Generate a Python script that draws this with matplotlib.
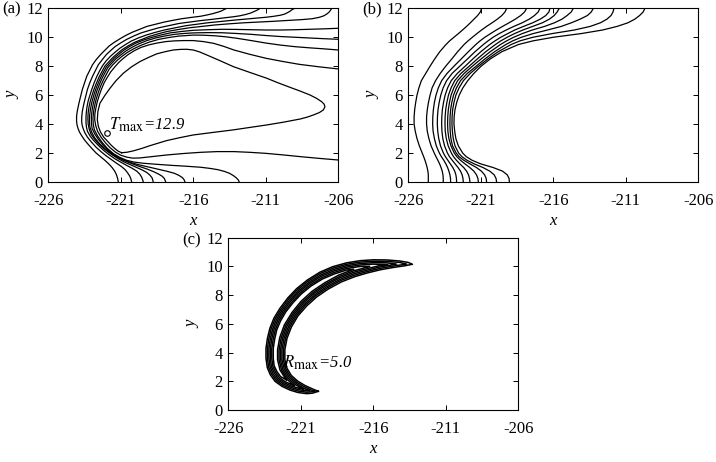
import matplotlib
matplotlib.use('Agg')
import matplotlib.pyplot as plt
import matplotlib._mathtext as _mt

_mt.SHRINK_FACTOR = 0.85  # larger subscripts, like the reference labels

plt.rcParams['font.family'] = ['Liberation Serif', 'DejaVu Serif']
plt.rcParams['mathtext.fontset'] = 'stix'

x_ticks = [-226, -221, -216, -211, -206]
y_ticks = [0, 2, 4, 6, 8, 10, 12]
x_range = (-226, -206)
y_range = (0, 12)

# ---------------- Panel (a): T contour lines, (x, y) pairs ----------------
a1 = [(-221.17,0),(-221.22,0.25),(-221.3,0.5),(-221.42,0.75),(-221.6,1.0),(-221.83,1.25),(-222.1,1.5),(-222.4,1.75),(-222.7,2.0),(-222.98,2.3),(-223.25,2.6),(-223.5,2.9),(-223.7,3.2),(-223.85,3.45),(-223.95,3.7),(-224.02,3.95),(-224.05,4.2),(-224.05,4.55),(-224.0,4.9),(-223.93,5.25),(-223.85,5.6),(-223.75,6.0),(-223.65,6.4),(-223.5,6.85),(-223.35,7.3),(-223.15,7.7),(-222.95,8.1),(-222.7,8.45),(-222.4,8.8),(-222.1,9.1),(-221.8,9.4),(-221.45,9.65),(-221.05,9.9),(-220.65,10.13),(-220.2,10.35),(-219.7,10.55),(-219.2,10.75),(-218.6,10.9),(-218.0,11.05),(-217.4,11.17),(-216.8,11.28),(-216.15,11.37),(-215.5,11.45),(-215.1,11.53),(-214.7,11.62),(-214.35,11.72),(-214.1,11.8),(-213.9,11.9),(-213.8,11.95),(-213.7,12.0)]
a2 = [(-220.25,0),(-220.3,0.2),(-220.38,0.4),(-220.52,0.62),(-220.7,0.85),(-220.97,1.08),(-221.3,1.3),(-221.65,1.55),(-222.0,1.8),(-222.37,2.1),(-222.7,2.4),(-223.02,2.75),(-223.3,3.1),(-223.48,3.4),(-223.6,3.7),(-223.67,3.95),(-223.7,4.2),(-223.69,4.55),(-223.65,4.9),(-223.58,5.25),(-223.5,5.6),(-223.4,6.0),(-223.3,6.4),(-223.14,6.85),(-222.95,7.3),(-222.75,7.7),(-222.55,8.1),(-222.28,8.45),(-222.0,8.8),(-221.7,9.08),(-221.4,9.35),(-221.02,9.6),(-220.6,9.85),(-220.12,10.08),(-219.6,10.3),(-219.0,10.48),(-218.4,10.65),(-217.7,10.8),(-217.0,10.95),(-216.25,11.05),(-215.5,11.15),(-214.85,11.22),(-214.2,11.3),(-213.7,11.36),(-213.2,11.42),(-212.8,11.48),(-212.4,11.57),(-212.05,11.67),(-211.8,11.78),(-211.6,11.87),(-211.5,11.93),(-211.4,12.0)]
a3 = [(-219.45,0),(-219.5,0.18),(-219.57,0.35),(-219.7,0.55),(-219.9,0.75),(-220.22,0.95),(-220.6,1.15),(-221.0,1.37),(-221.4,1.6),(-221.8,1.88),(-222.2,2.2),(-222.57,2.55),(-222.9,2.9),(-223.13,3.2),(-223.3,3.5),(-223.37,3.8),(-223.4,4.1),(-223.4,4.45),(-223.38,4.8),(-223.33,5.2),(-223.25,5.6),(-223.13,6.0),(-223.0,6.4),(-222.84,6.85),(-222.65,7.3),(-222.46,7.68),(-222.25,8.05),(-222.0,8.38),(-221.7,8.7),(-221.38,8.98),(-221.05,9.25),(-220.67,9.5),(-220.25,9.75),(-219.77,9.96),(-219.25,10.15),(-218.65,10.33),(-218.0,10.5),(-217.25,10.65),(-216.5,10.8),(-215.75,10.9),(-215.0,11.0),(-214.0,11.1),(-213.0,11.2),(-212.0,11.29),(-211.0,11.38),(-210.5,11.44),(-210.0,11.52),(-209.7,11.6),(-209.5,11.7),(-209.32,11.8),(-209.2,11.9),(-209.0,12.0)]
a4 = [(-218.76,0),(-218.8,0.15),(-218.85,0.3),(-219.0,0.48),(-219.2,0.65),(-219.52,0.83),(-219.9,1.0),(-220.35,1.2),(-220.8,1.4),(-221.25,1.65),(-221.7,1.95),(-222.12,2.27),(-222.5,2.6),(-222.8,2.95),(-223.05,3.3),(-223.18,3.65),(-223.25,4.0),(-223.27,4.4),(-223.25,4.8),(-223.19,5.2),(-223.1,5.6),(-222.98,6.0),(-222.85,6.4),(-222.68,6.83),(-222.5,7.25),(-222.3,7.63),(-222.1,8.0),(-221.83,8.3),(-221.55,8.6),(-221.23,8.88),(-220.9,9.15),(-220.5,9.4),(-220.05,9.65),(-219.55,9.85),(-219.05,10.05),(-218.45,10.23),(-217.8,10.4),(-217.05,10.53),(-216.3,10.65),(-215.4,10.75),(-214.5,10.85),(-213.5,10.93),(-212.5,11.0),(-211.5,11.05),(-210.5,11.1),(-209.5,11.16),(-208.5,11.22),(-207.8,11.28),(-207.3,11.38),(-207.0,11.48),(-206.8,11.6),(-206.65,11.72),(-206.55,11.85),(-206.45,12.0)]
a5 = [(-217.9,0),(-217.95,0.12),(-218.0,0.25),(-218.15,0.4),(-218.4,0.55),(-218.75,0.72),(-219.2,0.9),(-219.7,1.07),(-220.2,1.25),(-220.7,1.46),(-221.2,1.7),(-221.67,1.98),(-222.1,2.3),(-222.48,2.66),(-222.8,3.05),(-223.0,3.42),(-223.13,3.8),(-223.17,4.2),(-223.15,4.6),(-223.09,5.05),(-223.0,5.5),(-222.88,5.93),(-222.75,6.35),(-222.58,6.78),(-222.4,7.2),(-222.2,7.58),(-222.0,7.95),(-221.73,8.25),(-221.45,8.55),(-221.13,8.83),(-220.8,9.1),(-220.4,9.36),(-219.95,9.6),(-219.45,9.8),(-218.9,9.98),(-218.25,10.15),(-217.6,10.3),(-216.8,10.4),(-216.0,10.48),(-215.0,10.52),(-214.0,10.55),(-213.0,10.54),(-212.0,10.52),(-211.0,10.5),(-210.0,10.5),(-209.0,10.52),(-208.0,10.55),(-207.0,10.58),(-206.0,10.62)]
a6 = [(-216.57,0),(-216.63,0.15),(-216.75,0.3),(-216.98,0.45),(-217.3,0.6),(-217.85,0.75),(-218.5,0.9),(-219.15,1.05),(-219.8,1.2),(-220.35,1.36),(-220.9,1.55),(-221.38,1.82),(-221.8,2.15),(-222.2,2.52),(-222.55,2.95),(-222.8,3.33),(-222.98,3.7),(-223.03,4.1),(-223.03,4.5),(-222.98,4.95),(-222.9,5.4),(-222.78,5.85),(-222.65,6.3),(-222.48,6.73),(-222.3,7.15),(-222.1,7.53),(-221.9,7.9),(-221.63,8.2),(-221.35,8.5),(-221.0,8.78),(-220.65,9.05),(-220.22,9.31),(-219.75,9.55),(-219.2,9.77),(-218.6,9.95),(-217.95,10.09),(-217.3,10.2),(-216.65,10.26),(-216.0,10.3),(-215.0,10.32),(-214.0,10.31),(-213.0,10.26),(-212.0,10.2),(-211.0,10.12),(-210.0,10.05),(-209.0,10.0),(-208.0,9.95),(-207.0,9.9),(-206.0,9.86)]
a7 = [(-212.83,0),(-212.9,0.15),(-213.05,0.3),(-213.25,0.45),(-213.5,0.6),(-213.85,0.73),(-214.3,0.85),(-214.85,0.94),(-215.5,1.02),(-216.5,1.09),(-217.5,1.15),(-218.5,1.22),(-219.5,1.3),(-220.1,1.38),(-220.6,1.5),(-221.07,1.7),(-221.5,1.95),(-221.93,2.32),(-222.3,2.75),(-222.6,3.18),(-222.82,3.6),(-222.9,4.0),(-222.92,4.4),(-222.88,4.85),(-222.8,5.3),(-222.69,5.75),(-222.55,6.2),(-222.39,6.63),(-222.2,7.05),(-222.0,7.43),(-221.8,7.8),(-221.55,8.1),(-221.25,8.4),(-220.92,8.68),(-220.55,8.95),(-220.1,9.21),(-219.6,9.45),(-219.02,9.67),(-218.4,9.85),(-217.7,9.98),(-217.0,10.08),(-216.0,10.15),(-215.25,10.14),(-214.5,10.1),(-213.75,10.03),(-213.0,9.93),(-212.0,9.77),(-211.0,9.6),(-210.0,9.46),(-209.0,9.35),(-208.0,9.27),(-207.0,9.2),(-206.0,9.12)]
a8 = [(-206.0,1.52),(-207.3,1.63),(-208.6,1.75),(-209.8,1.87),(-211.0,1.98),(-212.1,2.05),(-213.2,2.1),(-214.35,2.1),(-215.5,2.05),(-216.65,1.97),(-217.8,1.87),(-218.8,1.76),(-219.7,1.66),(-220.2,1.65),(-220.6,1.72),(-221.0,1.85),(-221.35,2.05),(-221.72,2.35),(-222.05,2.7),(-222.35,3.08),(-222.6,3.5),(-222.73,3.9),(-222.8,4.3),(-222.79,4.7),(-222.72,5.1),(-222.63,5.52),(-222.5,5.95),(-222.34,6.4),(-222.15,6.85),(-221.93,7.23),(-221.7,7.6),(-221.43,7.93),(-221.15,8.25),(-220.84,8.53),(-220.5,8.8),(-220.07,9.07),(-219.6,9.3),(-219.07,9.47),(-218.5,9.6),(-217.9,9.7),(-217.3,9.75),(-216.65,9.77),(-216.0,9.77),(-215.3,9.7),(-214.6,9.58),(-213.9,9.37),(-213.2,9.12),(-212.1,8.82),(-211.0,8.55),(-209.85,8.33),(-208.7,8.13),(-207.35,7.96),(-206.0,7.81)]
a9 = [(-220.94,2.02),(-220.55,2.06),(-220.14,2.15),(-219.55,2.32),(-218.99,2.51),(-218.4,2.69),(-217.84,2.86),(-216.9,3.07),(-216.0,3.25),(-214.6,3.43),(-213.24,3.6),(-212.1,3.77),(-210.94,3.94),(-209.8,4.13),(-208.64,4.35),(-208.15,4.48),(-207.72,4.63),(-207.3,4.8),(-207.03,4.98),(-206.92,5.2),(-206.98,5.38),(-207.15,5.55),(-207.5,5.78),(-207.95,6.01),(-208.6,6.27),(-209.33,6.54),(-210.15,6.85),(-210.94,7.17),(-212.1,7.57),(-213.24,7.97),(-214.2,8.4),(-215.08,8.78),(-215.55,8.98),(-216.0,9.12),(-216.46,9.17),(-216.9,9.16),(-217.38,9.12),(-217.95,9.0),(-218.53,8.85),(-219.1,8.6),(-219.68,8.32),(-220.27,7.95),(-220.83,7.51),(-221.33,7.0),(-221.75,6.47),(-222.12,5.95),(-222.44,5.44),(-222.58,4.87),(-222.62,4.3),(-222.55,3.85),(-222.4,3.45),(-222.18,3.1),(-221.9,2.8),(-221.65,2.53),(-221.4,2.3),(-221.18,2.13),(-220.94,2.02)]
tmax_x = -221.98
tmax_y = 3.36
tmax_value = 12.9

# ---------------- Panel (b): contour lines, x at shared y levels ----------------
b_y = [0,0.25,0.5,0.75,1.0,1.25,1.5,1.75,2.0,2.5,3.0,3.5,4.0,4.5,5.0,5.5,6.0,6.5,7.0,7.5,8.0,8.5,9.0,9.5,9.75,10.0,10.25,10.5,10.75,11.0,11.25,11.5,11.75,12.0]
b1_x = [-224.62,-224.62,-224.62,-224.65,-224.7,-224.77,-224.85,-224.94,-225.04,-225.24,-225.4,-225.52,-225.6,-225.6,-225.56,-225.49,-225.4,-225.27,-225.1,-224.8,-224.5,-224.18,-223.83,-223.4,-223.15,-222.85,-222.55,-222.26,-221.98,-221.72,-221.47,-221.22,-221.03,-220.94]
b2_x = [-223.59,-223.59,-223.61,-223.66,-223.74,-223.84,-223.96,-224.09,-224.21,-224.43,-224.58,-224.69,-224.74,-224.74,-224.69,-224.61,-224.5,-224.36,-224.12,-223.8,-223.42,-223.0,-222.6,-222.15,-221.88,-221.58,-221.27,-220.95,-220.6,-220.22,-219.86,-219.55,-219.33,-219.22]
b3_x = [-223.08,-223.09,-223.13,-223.2,-223.29,-223.41,-223.55,-223.72,-223.86,-224.07,-224.2,-224.29,-224.32,-224.31,-224.27,-224.2,-224.09,-223.93,-223.7,-223.33,-222.85,-222.35,-221.86,-221.34,-221.05,-220.72,-220.33,-219.93,-219.5,-219.05,-218.62,-218.25,-217.98,-217.84]
b4_x = [-222.67,-222.68,-222.72,-222.8,-222.93,-223.1,-223.27,-223.44,-223.58,-223.78,-223.9,-223.97,-224.0,-223.99,-223.95,-223.87,-223.76,-223.6,-223.36,-222.98,-222.45,-221.92,-221.4,-220.82,-220.5,-220.15,-219.73,-219.25,-218.72,-218.14,-217.66,-217.3,-217.04,-216.92]
b5_x = [-222.21,-222.23,-222.29,-222.4,-222.57,-222.77,-222.97,-223.16,-223.3,-223.5,-223.62,-223.68,-223.7,-223.69,-223.65,-223.57,-223.46,-223.29,-223.04,-222.62,-222.08,-221.55,-221.0,-220.38,-220.02,-219.62,-219.15,-218.66,-218.05,-217.42,-216.9,-216.52,-216.3,-216.23]
b6_x = [-221.75,-221.78,-221.85,-221.98,-222.18,-222.44,-222.68,-222.88,-223.03,-223.25,-223.38,-223.45,-223.47,-223.46,-223.42,-223.34,-223.23,-223.05,-222.8,-222.37,-221.8,-221.24,-220.66,-219.99,-219.62,-219.18,-218.68,-218.1,-217.42,-216.75,-216.27,-215.94,-215.73,-215.59]
b7_x = [-221.17,-221.2,-221.3,-221.48,-221.76,-222.09,-222.4,-222.65,-222.83,-223.06,-223.2,-223.27,-223.29,-223.28,-223.24,-223.16,-223.05,-222.86,-222.6,-222.15,-221.58,-220.98,-220.35,-219.64,-219.22,-218.73,-218.15,-217.45,-216.6,-215.92,-215.4,-215.05,-214.76,-214.62]
b8_x = [-220.6,-220.63,-220.74,-220.96,-221.3,-221.75,-222.17,-222.5,-222.7,-222.95,-223.06,-223.11,-223.13,-223.12,-223.08,-223.0,-222.88,-222.68,-222.4,-221.93,-221.32,-220.72,-220.05,-219.27,-218.8,-218.2,-217.4,-216.4,-215.45,-214.75,-214.15,-213.65,-213.38,-213.24]
b9_x = [-219.91,-219.95,-220.08,-220.38,-220.85,-221.45,-221.95,-222.3,-222.53,-222.78,-222.9,-222.96,-222.99,-222.98,-222.94,-222.85,-222.72,-222.5,-222.2,-221.73,-221.15,-220.52,-219.8,-218.9,-218.3,-217.4,-216.1,-214.55,-213.45,-212.75,-212.3,-212.02,-211.88,-211.82]
b10_x = [-219.03,-219.05,-219.18,-219.5,-220.15,-221.0,-221.6,-222.0,-222.25,-222.55,-222.72,-222.8,-222.85,-222.84,-222.78,-222.66,-222.49,-222.24,-221.9,-221.48,-220.98,-220.35,-219.55,-218.4,-217.4,-216.0,-214.1,-212.6,-211.6,-210.85,-210.38,-210.05,-209.8,-209.68]

# ---------------- Panel (c): R contours, closed loops as (x, y) pairs ----------------
c1 = [(-219.79,1.3),(-220.2,1.17),(-220.6,1.14),(-221.2,1.22),(-221.75,1.39),(-222.3,1.65),(-222.78,2.0),(-223.1,2.45),(-223.31,2.95),(-223.4,3.6),(-223.4,4.3),(-223.3,5.0),(-223.13,5.7),(-222.85,6.4),(-222.44,7.08),(-221.9,7.8),(-221.29,8.45),(-220.55,9.05),(-219.68,9.6),(-218.8,9.98),(-217.84,10.25),(-216.9,10.4),(-216.0,10.46),(-215.08,10.45),(-214.2,10.38),(-213.6,10.28),(-213.3,10.15),
      (-213.8,10.05),(-214.6,9.93),(-215.5,9.77),(-216.4,9.55),(-217.3,9.28),(-218.2,8.92),(-219.1,8.43),(-219.9,7.88),(-220.6,7.24),(-221.2,6.55),(-221.65,5.78),(-221.95,5.0),(-222.1,4.2),(-222.1,3.5),(-221.95,2.9),(-221.65,2.4),(-221.2,2.0),(-220.7,1.7),(-220.2,1.47),(-219.79,1.3)]
c2 = [(-220.05,1.3),(-220.2,1.27),(-220.6,1.24),(-221.19,1.32),(-221.71,1.48),(-222.25,1.73),(-222.71,2.07),(-223.01,2.5),(-223.22,2.98),(-223.3,3.6),(-223.3,4.3),(-223.2,4.99),(-223.04,5.68),(-222.76,6.36),(-222.36,7.03),(-221.83,7.74),(-221.23,8.38),(-220.5,8.97),(-219.65,9.51),(-218.78,9.88),(-217.84,10.15),(-216.9,10.3),(-216.0,10.36),(-215.08,10.35),(-214.2,10.28),(-213.7,10.16),
      (-214.6,10.03),(-215.5,9.87),(-216.4,9.65),(-217.33,9.38),(-218.24,9.02),(-219.15,8.52),(-219.97,7.96),(-220.68,7.31),(-221.28,6.6),(-221.75,5.81),(-222.05,5.01),(-222.2,4.2),(-222.2,3.5),(-222.05,2.88),(-221.73,2.34),(-221.26,1.92),(-220.74,1.61),(-220.23,1.37),(-220.05,1.3)]
c3 = [(-220.4,1.35),(-220.6,1.34),(-221.18,1.42),(-221.67,1.57),(-222.19,1.81),(-222.63,2.13),(-222.92,2.54),(-223.12,3.0),(-223.2,3.6),(-223.2,4.3),(-223.1,4.98),(-222.94,5.65),(-222.67,6.32),(-222.28,6.98),(-221.75,7.67),(-221.16,8.3),(-220.45,8.88),(-219.61,9.41),(-218.75,9.78),(-217.84,10.05),(-216.9,10.2),(-216.0,10.26),(-215.08,10.25),(-214.4,10.16),
      (-215.5,9.97),(-216.4,9.75),(-217.35,9.48),(-218.27,9.11),(-219.2,8.6),(-220.03,8.03),(-220.75,7.37),(-221.36,6.65),(-221.84,5.84),(-222.15,5.02),(-222.3,4.2),(-222.3,3.5),(-222.14,2.85),(-221.8,2.27),(-221.31,1.84),(-220.78,1.51),(-220.4,1.35)]
c4 = [(-220.85,1.47),(-221.17,1.52),(-221.63,1.66),(-222.14,1.89),(-222.56,2.2),(-222.83,2.59),(-223.03,3.03),(-223.1,3.6),(-223.1,4.3),(-223.0,4.97),(-222.85,5.63),(-222.58,6.28),(-222.2,6.93),(-221.68,7.61),(-221.1,8.23),(-220.4,8.8),(-219.58,9.32),(-218.73,9.68),(-217.84,9.95),(-216.9,10.1),(-216.0,10.16),(-215.0,10.12),
      (-215.5,10.07),(-216.4,9.85),(-217.38,9.58),(-218.31,9.21),(-219.25,8.69),(-220.1,8.11),(-220.83,7.44),(-221.44,6.7),(-221.94,5.87),(-222.25,5.03),(-222.4,4.2),(-222.4,3.5),(-222.24,2.83),(-221.88,2.21),(-221.37,1.76),(-220.85,1.47)]
c5 = [(-221.45,1.7),(-221.59,1.75),(-222.08,1.97),(-222.48,2.26),(-222.74,2.63),(-222.93,3.05),(-223.0,3.6),(-223.0,4.3),(-222.9,4.96),(-222.75,5.6),(-222.49,6.24),(-222.12,6.88),(-221.6,7.54),(-221.03,8.15),(-220.35,8.71),(-219.54,9.22),(-218.7,9.58),(-217.84,9.85),(-216.9,10.0),(-216.25,10.0),
      (-216.4,9.95),(-217.4,9.68),(-218.34,9.3),(-219.3,8.77),(-220.16,8.18),(-220.9,7.5),(-221.52,6.75),(-222.03,5.9),(-222.35,5.04),(-222.5,4.2),(-222.5,3.5),(-222.33,2.8),(-221.95,2.14),(-221.45,1.7)]
c6 = [(-222.0,2.1),(-222.4,2.33),(-222.65,2.68),(-222.84,3.08),(-222.9,3.6),(-222.9,4.3),(-222.8,4.95),(-222.66,5.58),(-222.4,6.2),(-222.04,6.83),(-221.53,7.48),(-220.97,8.08),(-220.3,8.63),(-219.5,9.13),(-218.68,9.48),(-217.84,9.75),(-217.35,9.8),
      (-218.38,9.4),(-219.35,8.86),(-220.23,8.26),(-220.98,7.57),(-221.6,6.8),(-222.13,5.93),(-222.45,5.05),(-222.6,4.2),(-222.6,3.5),(-222.43,2.78),(-222.0,2.1)]
rmax_value = 5.0

panel_a = [a1, a2, a3, a4, a5, a6, a7, a8, a9]
panel_b = [b1_x, b2_x, b3_x, b4_x, b5_x, b6_x, b7_x, b8_x, b9_x, b10_x]
panel_c = [c1, c2, c3, c4, c5, c6]

FS = 12
LW = 0.9
fig = plt.figure(figsize=(7.16, 4.62), dpi=100)
W, H = 716.0, 462.0
ax_a = fig.add_axes([48.3 / W, 1 - 182 / H, 290 / W, 173.7 / H])
ax_b = fig.add_axes([408.3 / W, 1 - 182 / H, 290 / W, 173.7 / H])
ax_c = fig.add_axes([228.3 / W, 1 - 410 / H, 290 / W, 172.3 / H])


def style(ax):
    ax.set_xlim(*x_range)
    ax.set_ylim(*y_range)
    ax.set_xticks(x_ticks)
    ax.set_yticks(y_ticks)
    ax.set_xticklabels([str(v) for v in x_ticks])
    ax.set_yticklabels([str(v) for v in y_ticks])
    ax.tick_params(direction='in', top=True, right=True, length=3.5, width=0.7,
                   labelsize=FS)
    ax.tick_params(axis='x', pad=8)
    ax.tick_params(axis='y', pad=4)
    for s in ax.spines.values():
        s.set_linewidth(0.8)
    ax.set_xlabel('x', style='italic', fontsize=FS, labelpad=3)
    ax.set_ylabel('y', style='italic', fontsize=FS, labelpad=4)


for ax in (ax_a, ax_b, ax_c):
    style(ax)

for pts in panel_a:
    ax_a.plot([p[0] for p in pts], [p[1] for p in pts], color='black', lw=LW,
              solid_joinstyle='round')
for xs in panel_b:
    ax_b.plot(xs, b_y, color='black', lw=LW, solid_joinstyle='round')
for pts in panel_c:
    ax_c.plot([p[0] for p in pts], [p[1] for p in pts], color='black', lw=1.1,
              solid_joinstyle='round')

ax_a.plot([tmax_x], [tmax_y], marker='o', ms=4, mfc='none', mec='black', mew=0.8)
ax_a.text(-221.8, 3.62, r'$T_{\mathrm{max}}$=%.1f' % tmax_value, fontsize=FS,
          style='italic', ha='left', va='baseline')
ax_c.text(-222.2, 2.95, r'$R_{\mathrm{max}}$=%.1f' % rmax_value, fontsize=FS,
          style='italic', ha='left', va='baseline')

fig.text(2 / W, 1 - 9 / H, '(a)', fontsize=FS, ha='left', va='center')
fig.text(362 / W, 1 - 9 / H, '(b)', fontsize=FS, ha='left', va='center')
fig.text(182 / W, 1 - 240 / H, '(c)', fontsize=FS, ha='left', va='center')

fig.savefig('out.png', dpi=100)
